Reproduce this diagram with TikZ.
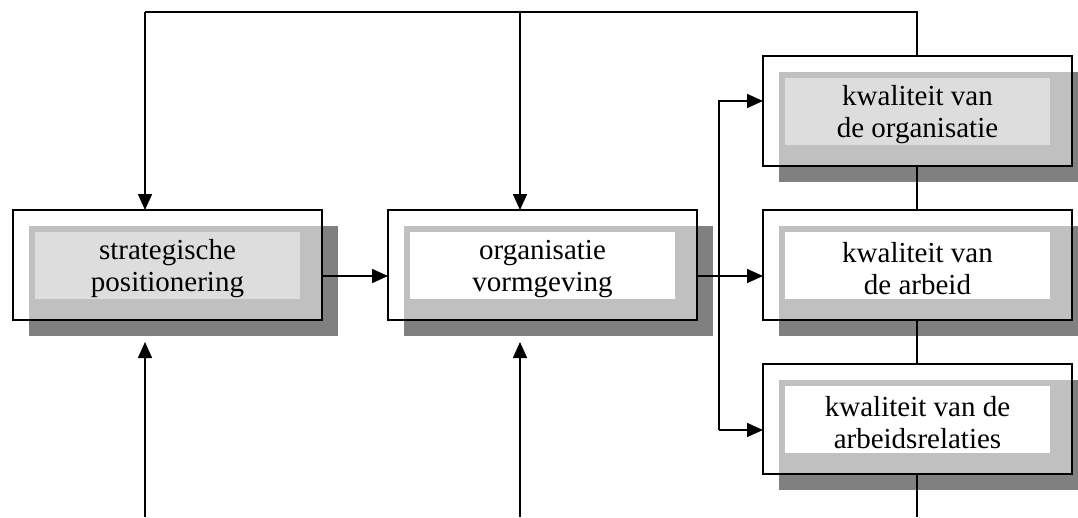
\documentclass[tikz,border=0pt]{standalone}
\usepackage{fontspec}
\setmainfont{Liberation Serif}
\usetikzlibrary{arrows.meta,calc}

\definecolor{shadowdark}{HTML}{808080}
\definecolor{shadowmid}{HTML}{C0C0C0}
\definecolor{labelgray}{HTML}{DDDDDD}

\tikzset{
  framebox/.style={minimum width=309pt, minimum height=110pt, inner sep=0pt,
                   outer sep=0pt, fill=white},
  labeltext/.style={inner sep=0pt, align=center,
                    font=\fontsize{29}{32}\selectfont},
  boxline/.style={line width=1.5pt, black},
  link/.style={line width=1.6pt, black},
  arrowlink/.style={link, -{Triangle[length=16pt,width=14pt]}},
}

% #1 name, #2 x centre, #3 y centre, #4 label fill, #5 text
\newcommand{\kbox}[5]{%
  \fill[shadowdark] (#2-138.5,#3-39) rectangle (#2+170.5,#3+71);
  \node[framebox] (#1) at (#2,#3) {};
  \fill[shadowmid] (#2-138.5,#3-39) rectangle (#2+154.5,#3+55);
  \fill[#4] (#2-132.5,#3-33) rectangle (#2+132.5,#3+34);
  \node[labeltext] (#1-label) at (#2,#3+4) {#5};
  \draw[boxline] (#1.north west) rectangle (#1.south east);
}

\begin{document}
\begin{tikzpicture}[x=1pt, y=-1pt]
  \useasboundingbox (0,0) rectangle (1078,517);
  \clip (0,0) rectangle (1078,517);

  % boxes
  \kbox{strat}{167.5}{265}{labelgray}{strategische\\positionering}
  \kbox{vorm}{542.5}{265}{white}{organisatie\\vormgeving}
  \kbox{korg}{917.5}{111}{labelgray}{kwaliteit van\\de organisatie}
  \kbox{karb}{917.5}{265}{white}{kwaliteit van\\de arbeid}
  \kbox{krel}{917.5}{419}{white}{kwaliteit van de\\arbeidsrelaties}

  % feedback loop along the top
  \coordinate (topR) at (917,12);
  \coordinate (topL) at (145,12);
  \coordinate (topM) at (520,12);
  \draw[link] (topR |- korg.north) -- (topR) -- (topL);
  \draw[arrowlink] (topL) -- (topL |- strat.north);
  \draw[arrowlink] (topM) -- (topM |- vorm.north);

  % inputs from below
  \coordinate (botL) at (145,517);
  \coordinate (botM) at (520,517);
  \draw[arrowlink] (botL) -- (145,342);
  \draw[arrowlink] (botM) -- (520,342);

  % main chain
  \draw[arrowlink] (strat.east |- 0,276) -- (vorm.west |- 0,276);
  \draw[arrowlink] (vorm.east |- 0,276) -- (karb.west |- 0,276);

  % distribution spine to the quality boxes
  \coordinate (spineT) at (719,101);
  \coordinate (spineB) at (719,430);
  \draw[arrowlink] (spineB) -- (spineT) -- (spineT -| korg.west);
  \draw[arrowlink] (spineB) -- (spineB -| krel.west);

  % vertical links between the quality boxes
  \coordinate (botR) at (917,517);
  \draw[link] (botR |- korg.south) -- (botR |- karb.north);
  \draw[link] (botR |- karb.south) -- (botR |- krel.north);
  \draw[link] (botR |- krel.south) -- (botR);
\end{tikzpicture}
\end{document}
